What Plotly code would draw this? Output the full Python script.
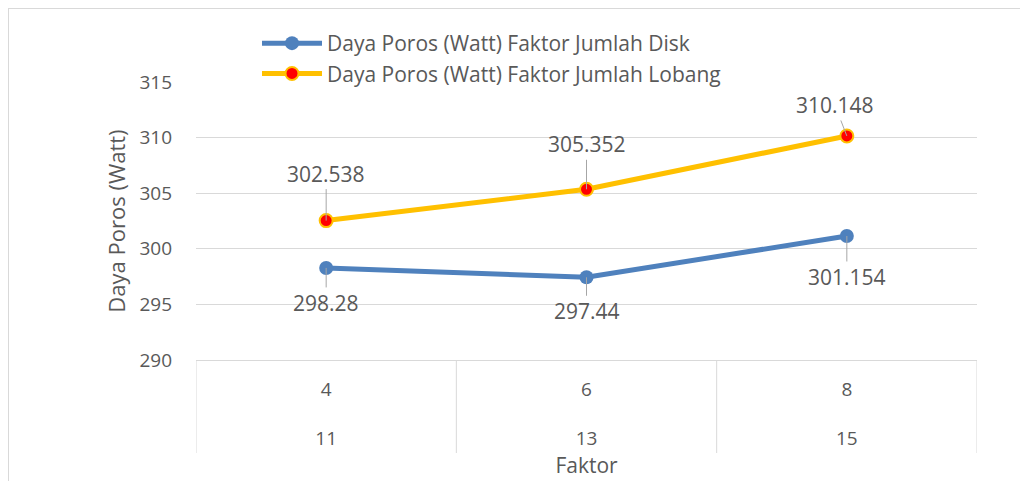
import plotly.graph_objects as go

outer = ["11", "13", "15"]
inner = ["4", "6", "8"]
disk = [298.28, 297.44, 301.154]
lobang = [302.538, 305.352, 310.148]
disk_labels = ["298.28", "297.44", "301.154"]
lobang_labels = ["302.538", "305.352", "310.148"]
name_disk = "Daya Poros (Watt) Faktor Jumlah Disk"
name_lobang = "Daya Poros (Watt) Faktor Jumlah Lobang"

FONT = "Open Sans"
TXT = "#595959"
GRID = "#D9D9D9"

fig = go.Figure()
fig.add_trace(go.Scatter(
    x=inner, y=disk, name=name_disk, mode="lines+markers",
    line=dict(color="#4F81BD", width=5),
    marker=dict(size=14, color="#4F81BD")))
fig.add_trace(go.Scatter(
    x=inner, y=lobang, name=name_lobang, mode="lines+markers",
    line=dict(color="#FFC000", width=5),
    marker=dict(size=13, color="#FF0000", line=dict(color="#FFC000", width=2))))

disk_off = [(0, 35), (0, 34), (0, 41)]
lob_off = [(0, -47), (0, -45), (-12, -31)]
for i in range(3):
    fig.add_annotation(x=i, y=disk[i], text=disk_labels[i], showarrow=True,
                       ax=disk_off[i][0], ay=disk_off[i][1], arrowhead=0,
                       arrowwidth=1, arrowcolor="#A6A6A6",
                       font=dict(family=FONT, size=21, color=TXT))
    fig.add_annotation(x=i, y=lobang[i], text=lobang_labels[i], showarrow=True,
                       ax=lob_off[i][0], ay=lob_off[i][1], arrowhead=0,
                       arrowwidth=1, arrowcolor="#A6A6A6",
                       font=dict(family=FONT, size=21, color=TXT))

# category dividers of the two-level axis
for k in range(len(inner) + 1):
    fig.add_shape(type="line", xref="x", yref="paper", x0=k - 0.5, x1=k - 0.5,
                  y0=0, y1=-93 / 278, line=dict(color=GRID, width=1))

# outer border of chart area
fig.add_shape(type="rect", xref="paper", yref="paper",
              x0=(0 - 188) / 781, x1=2, y0=-1, y1=(352 - 0) / 278,
              line=dict(color=GRID, width=2), layer="below")

fig.update_layout(
    width=1020, height=473,
    margin=dict(l=188, r=51, t=74, b=121, autoexpand=False),
    paper_bgcolor="white", plot_bgcolor="white",
    font=dict(family=FONT, size=19, color=TXT),
    showlegend=True,
    legend=dict(x=(257 - 196) / 781, y=(360 - 23) / 278, xanchor="left", yanchor="top",
                bgcolor="rgba(0,0,0,0)", font=dict(size=21, color=TXT),
                tracegroupgap=0, itemwidth=60),
    xaxis=dict(type="category", range=[-0.5, 2.5],
               tickvals=inner,
               ticktext=[f"{a}<br><br>{b}" for a, b in zip(inner, outer)],
               showline=True, linecolor=GRID, linewidth=1,
               showgrid=False, ticklabelstandoff=12,
               tickfont=dict(size=19, color=TXT),
               title=dict(text="Faktor", font=dict(size=21, color=TXT), standoff=4)),
    yaxis=dict(range=[290, 315], dtick=5, tick0=290, showgrid=True,
               gridcolor=GRID, gridwidth=1, zeroline=False,
               ticklabelstandoff=23, tickfont=dict(size=19, color=TXT),
               title=dict(text="Daya Poros (Watt)", font=dict(size=22, color=TXT),
                          standoff=7)),
)

fig.write_html("out.html")
